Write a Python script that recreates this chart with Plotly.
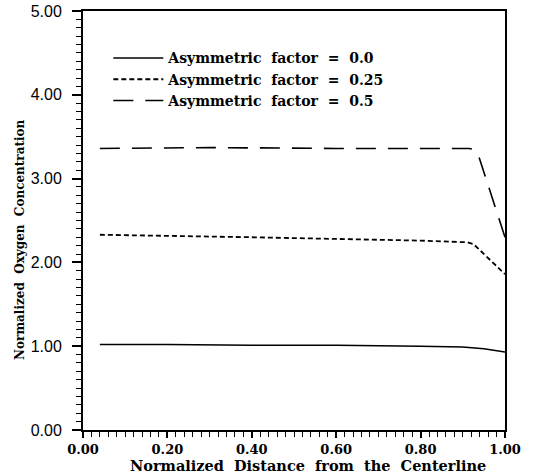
import plotly.graph_objects as go

# Data
x_f00 = [0.04, 0.20, 0.40, 0.60, 0.80, 0.90, 0.95, 1.00]
y_f00 = [1.02, 1.02, 1.01, 1.01, 1.00, 0.99, 0.97, 0.93]

x_f25 = [0.04, 0.20, 0.40, 0.60, 0.80, 0.91, 0.925, 1.00]
y_f25 = [2.33, 2.32, 2.30, 2.28, 2.26, 2.24, 2.22, 1.86]

x_f50 = [0.04, 0.30, 0.60, 0.915, 0.925, 0.935, 1.00]
y_f50 = [3.36, 3.37, 3.36, 3.36, 3.35, 3.31, 2.30]

labels = ["Asymmetric  factor  =  0.0",
          "Asymmetric  factor  =  0.25",
          "Asymmetric  factor  =  0.5"]
labels = [s.replace("  ", " \u00a0") for s in labels]

x_ticks = [0.0, 0.2, 0.4, 0.6, 0.8, 1.0]
x_ticktext = ["0.00", "0.20", "0.40", "0.60", "0.80", "1.00"]
y_ticks = [0, 1, 2, 3, 4, 5]
y_ticktext = ["0.00", "1.00", "2.00", "3.00", "4.00", "5.00"]

x_title = "Normalized  Distance  from  the  Centerline".replace("  ", " \u00a0")
y_title = "Normalized  Oxygen  Concentration".replace("  ", " \u00a0")

serif = "DejaVu Serif"
sans = "Liberation Sans"

fig = go.Figure()
fig.add_trace(go.Scatter(x=x_f00, y=y_f00, mode="lines", name=labels[0],
                         line=dict(color="black", width=1.5, dash="solid")))
fig.add_trace(go.Scatter(x=x_f25, y=y_f25, mode="lines", name=labels[1],
                         line=dict(color="black", width=1.8, dash="5px,3px")))
fig.add_trace(go.Scatter(x=x_f50, y=y_f50, mode="lines", name=labels[2],
                         line=dict(color="black", width=1.6, dash="20px,12px")))

fig.update_layout(
    width=535, height=475,
    margin=dict(l=83, r=30, t=11, b=45, autoexpand=False),
    paper_bgcolor="white", plot_bgcolor="white",
    showlegend=True,
    legend=dict(x=0.06, y=0.925, xanchor="left", yanchor="top",
                bgcolor="rgba(0,0,0,0)", borderwidth=0,
                font=dict(family=serif, size=14, color="black", weight="bold"),
                tracegroupgap=0, itemwidth=50),
    xaxis=dict(range=[0, 1], tickmode="array", tickvals=x_ticks, ticktext=x_ticktext,
               automargin=False,
               showgrid=False, zeroline=False, showline=True, linecolor="black",
               linewidth=2, mirror=True, ticks="outside", ticklen=6, tickwidth=1.5,
               tickcolor="black",
               tickfont=dict(family=serif, size=13, color="black", weight="bold"),
               minor=dict(dtick=0.02, tick0=0, ticks="outside", ticklen=5,
                          tickwidth=1.2, tickcolor="black", showgrid=False)),
    yaxis=dict(range=[0, 5], tickmode="array", tickvals=y_ticks, ticktext=y_ticktext,
               automargin=False,
               showgrid=False, zeroline=False, showline=True, linecolor="black",
               linewidth=2, mirror=True, ticks="outside", ticklen=9, tickwidth=1.5,
               tickcolor="black", ticklabelstandoff=7,
               tickfont=dict(family=sans, size=16, color="black"),
               minor=dict(dtick=0.1, tick0=0, ticks="outside", ticklen=5,
                          tickwidth=1.2, tickcolor="black", showgrid=False)),
    annotations=[
        dict(text=x_title, xref="paper", yref="paper", x=0.533, y=-0.084,
             xanchor="center", yanchor="middle", showarrow=False,
             font=dict(family=serif, size=14.5, color="black", weight="bold")),
        dict(text=y_title, xref="paper", yref="paper", x=-0.15, y=0.453,
             xanchor="center", yanchor="middle", showarrow=False, textangle=-90,
             font=dict(family=serif, size=12, color="black", weight="bold")),
    ],
)

fig.write_html("out.html", config={"displayModeBar": False},
               post_script="document.body.style.margin='0';")
